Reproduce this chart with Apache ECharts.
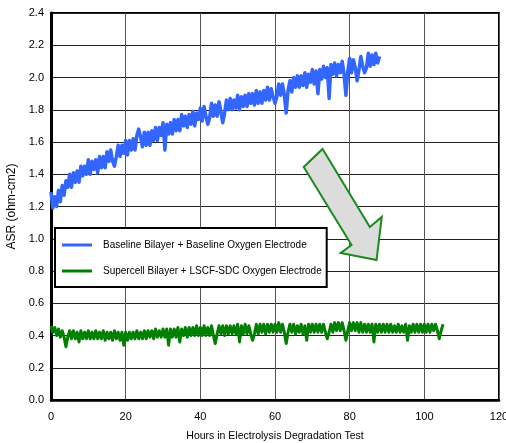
<!DOCTYPE html>
<html><head><meta charset="utf-8">
<script src="https://cdn.jsdelivr.net/npm/echarts@6/dist/echarts.min.js"></script>
<style>html,body{margin:0;padding:0;background:#fff}#c{width:506px;height:443px}</style>
</head><body><div id="c"></div>
<script>
const xTicks = [0, 20, 40, 60, 80, 100, 120];
const yTicks = [0.0, 0.2, 0.4, 0.6, 0.8, 1.0, 1.2, 1.4, 1.6, 1.8, 2.0, 2.2, 2.4];
const seriesNames = ['Baseline Bilayer + Baseline Oxygen Electrode', 'Supercell Bilayer + LSCF-SDC Oxygen Electrode'];
const xTitle = 'Hours in Electrolysis Degradation Test';
const yTitle = 'ASR (ohm-cm2)';

// Baseline (blue): [hours, ASR]
const baselineData = [
[0,1.29],[0.5,1.19],[1,1.26],[1.5,1.20],[2,1.30],[2.5,1.23],[3,1.33],[3.5,1.27],[4,1.36],[4.5,1.32],
[5,1.40],[5.5,1.32],[6,1.41],[6.5,1.35],[7,1.42],[7.5,1.35],[8,1.45],[8.5,1.39],[9,1.45],[9.5,1.40],
[10,1.49],[10.5,1.40],[11,1.48],[11.5,1.43],[12,1.49],[12.5,1.41],[13,1.51],[13.5,1.44],[14,1.51],[14.5,1.44],
[15,1.54],[15.5,1.48],[16,1.55],[16.5,1.48],[17,1.45],[17.5,1.51],[18,1.58],[18.5,1.51],[19,1.58],[19.5,1.53],
[20,1.61],[20.5,1.52],[21,1.61],[21.5,1.55],[22,1.62],[22.5,1.55],[23,1.64],[23.5,1.68],[24,1.63],[24.5,1.57],
[25,1.66],[25.5,1.58],[26,1.66],[26.5,1.58],[27,1.67],[27.5,1.61],[28,1.69],[28.5,1.61],[29,1.69],[29.5,1.64],
[30,1.72],[30.5,1.55],[31,1.71],[31.5,1.65],[32,1.72],[32.5,1.65],[33,1.74],[33.5,1.67],[34,1.74],[34.5,1.67],
[35,1.77],[35.5,1.70],[36,1.76],[36.5,1.69],[37,1.77],[37.5,1.71],[38,1.79],[38.5,1.70],[39,1.78],[39.5,1.74],
[40,1.81],[40.5,1.73],[41,1.82],[41.5,1.76],[42,1.71],[42.5,1.75],[43,1.84],[43.5,1.76],[44,1.83],[44.5,1.76],
[45,1.85],[45.5,1.79],[46,1.72],[46.5,1.78],[47,1.86],[47.5,1.80],[48,1.87],[48.5,1.80],[49,1.86],[49.5,1.81],
[50,1.89],[50.5,1.80],[51,1.88],[51.5,1.82],[52,1.89],[52.5,1.82],[53,1.90],[53.5,1.84],[54,1.90],[54.5,1.83],
[55,1.92],[55.5,1.84],[56,1.91],[56.5,1.84],[57,1.92],[57.5,1.86],[58,1.94],[58.5,1.86],[59,1.93],[59.5,1.88],
[60,1.84],[60.5,1.88],[61,1.96],[61.5,1.89],[62,1.96],[62.5,1.89],[63,1.78],[63.5,1.92],[64,1.98],[64.5,1.91],
[65,2.00],[65.5,1.94],[66,2.01],[66.5,1.94],[67,2.01],[67.5,1.95],[68,2.03],[68.5,1.94],[69,2.02],[69.5,1.97],
[70,2.05],[70.5,1.96],[71,2.04],[71.5,1.90],[72,2.05],[72.5,1.99],[73,2.07],[73.5,2.00],[74,2.06],[74.5,1.87],
[75,2.08],[75.5,2.02],[76,2.09],[76.5,2.01],[77,2.08],[77.5,2.03],[78,2.10],[78.5,2.02],[79,1.89],[79.5,2.04],
[80,2.12],[80.5,2.03],[81,2.11],[81.5,2.06],[82,1.98],[82.5,2.05],[83,2.13],[83.5,2.07],[84,2.03],[84.5,2.06],
[85,2.15],[85.5,2.07],[86,2.14],[86.5,2.08],[87,2.15],[87.5,2.09],[88,2.13]
];

// Supercell (green): [hours, ASR]
const supercellData = [
[0,0.46],[0.5,0.42],[1,0.45],[1.5,0.40],[2,0.44],[2.5,0.39],[3,0.43],[3.5,0.39],[4,0.33],[4.5,0.39],
[5,0.43],[5.5,0.38],[6,0.43],[6.5,0.38],[7,0.42],[7.5,0.36],[8,0.43],[8.5,0.38],[9,0.42],[9.5,0.38],
[10,0.43],[10.5,0.38],[11,0.42],[11.5,0.38],[12,0.43],[12.5,0.38],[13,0.42],[13.5,0.38],[14,0.43],[14.5,0.37],
[15,0.42],[15.5,0.38],[16,0.42],[16.5,0.37],[17,0.43],[17.5,0.38],[18,0.42],[18.5,0.37],[19,0.42],[19.5,0.34],
[20,0.42],[20.5,0.37],[21,0.42],[21.5,0.38],[22,0.42],[22.5,0.38],[23,0.43],[23.5,0.38],[24,0.42],[24.5,0.38],
[25,0.43],[25.5,0.38],[26,0.43],[26.5,0.39],[27,0.43],[27.5,0.38],[28,0.44],[28.5,0.39],[29,0.43],[29.5,0.39],
[30,0.44],[30.5,0.39],[31,0.44],[31.5,0.34],[32,0.44],[32.5,0.39],[33,0.44],[33.5,0.39],[34,0.45],[34.5,0.36],
[35,0.44],[35.5,0.40],[36,0.45],[36.5,0.39],[37,0.45],[37.5,0.40],[38,0.45],[38.5,0.40],[39,0.46],[39.5,0.40],
[40,0.45],[40.5,0.40],[41,0.46],[41.5,0.40],[42,0.45],[42.5,0.40],[43,0.46],[43.5,0.40],[44,0.35],[44.5,0.41],
[45,0.46],[45.5,0.41],[46,0.46],[46.5,0.40],[47,0.46],[47.5,0.41],[48,0.46],[48.5,0.41],[49,0.46],[49.5,0.41],
[50,0.47],[50.5,0.36],[51,0.46],[51.5,0.41],[52,0.47],[52.5,0.41],[53,0.46],[53.5,0.41],[54,0.37],[54.5,0.41],
[55,0.47],[55.5,0.41],[56,0.47],[56.5,0.42],[57,0.47],[57.5,0.41],[58,0.47],[58.5,0.42],[59,0.47],[59.5,0.42],
[60,0.47],[60.5,0.42],[61,0.48],[61.5,0.42],[62,0.47],[62.5,0.42],[63,0.35],[63.5,0.42],[64,0.47],[64.5,0.42],
[65,0.47],[65.5,0.41],[66,0.46],[66.5,0.42],[67,0.47],[67.5,0.41],[68,0.46],[68.5,0.37],[69,0.47],[69.5,0.42],
[70,0.47],[70.5,0.42],[71,0.47],[71.5,0.42],[72,0.47],[72.5,0.42],[73,0.47],[73.5,0.42],[74,0.38],[74.5,0.42],
[75,0.47],[75.5,0.42],[76,0.48],[76.5,0.43],[77,0.48],[77.5,0.43],[78,0.48],[78.5,0.43],[79,0.37],[79.5,0.43],
[80,0.48],[80.5,0.43],[81,0.48],[81.5,0.43],[82,0.48],[82.5,0.42],[83,0.48],[83.5,0.42],[84,0.47],[84.5,0.42],
[85,0.47],[85.5,0.42],[86,0.47],[86.5,0.36],[87,0.47],[87.5,0.42],[88,0.47],[88.5,0.42],[89,0.47],[89.5,0.42],
[90,0.47],[90.5,0.42],[91,0.47],[91.5,0.42],[92,0.46],[92.5,0.42],[93,0.47],[93.5,0.42],[94,0.46],[94.5,0.42],
[95,0.47],[95.5,0.37],[96,0.46],[96.5,0.42],[97,0.47],[97.5,0.42],[98,0.47],[98.5,0.42],[99,0.47],[99.5,0.42],
[100,0.47],[100.5,0.42],[101,0.47],[101.5,0.42],[102,0.47],[102.5,0.43],[103,0.47],[103.5,0.43],[104,0.38],[104.5,0.43],
[105,0.47]
];

// Arrow annotation outline in data coordinates [hours, ASR]
const arrowOutline = [[72.75,1.557],[85.4,1.073],[88.6,1.135],[87.2,0.868],[77.6,0.912],[80.5,0.961],[67.7,1.445]];

const FONT = '"Liberation Sans Narrow","Arial Narrow","Liberation Sans",Arial,sans-serif';
const chart = echarts.init(document.getElementById('c'), null, {renderer: 'canvas'});
chart.setOption({
  animation: false,
  backgroundColor: '#fff',
  grid: {left: 51, right: 7, top: 13, bottom: 43, show: true, borderColor: '#000', borderWidth: 2,
         backgroundColor: 'transparent', containLabel: false, outerBoundsMode: 'none'},
  xAxis: {
    type: 'value', min: xTicks[0], max: xTicks[xTicks.length - 1], interval: 20,
    name: xTitle, nameLocation: 'middle', nameGap: 31,
    nameTextStyle: {fontFamily: FONT, fontSize: 10.5, color: '#000'},
    axisLine: {show: true, onZero: false, lineStyle: {color: '#000', width: 2.5}},
    axisTick: {show: false},
    axisLabel: {fontFamily: FONT, fontSize: 11, color: '#000', margin: 11},
    splitLine: {show: true, lineStyle: {color: '#555', width: 1}}
  },
  yAxis: {
    type: 'value', min: yTicks[0], max: yTicks[yTicks.length - 1], interval: 0.2,
    name: yTitle, nameLocation: 'middle', nameGap: 29,
    nameTextStyle: {fontFamily: FONT, fontSize: 12, color: '#000'},
    axisLine: {show: true, lineStyle: {color: '#000', width: 3}},
    axisTick: {show: false},
    axisLabel: {fontFamily: FONT, fontSize: 11, color: '#000', margin: 7, formatter: v => v.toFixed(1)},
    splitLine: {show: true, lineStyle: {color: '#222', width: 1}}
  },
  legend: {
    orient: 'vertical', left: 55, top: 228,
    backgroundColor: '#fff', borderColor: '#000', borderWidth: 2,
    padding: [12, 5, 11, 7], itemGap: 16, itemWidth: 30, itemHeight: 3, icon: 'rect',
    textStyle: {fontFamily: FONT, fontSize: 10, color: '#000', padding: [0, 0, 0, 6]},
    data: seriesNames
  },
  series: [
    {name: seriesNames[0], type: 'line', data: baselineData, showSymbol: false, symbol: 'none',
     lineStyle: {color: '#3366ff', width: 3.5, join: 'round'}, itemStyle: {color: '#3366ff'}, z: 3},
    {name: seriesNames[1], type: 'line', data: supercellData, showSymbol: false, symbol: 'none',
     lineStyle: {color: '#008000', width: 3, join: 'round'}, itemStyle: {color: '#008000'}, z: 3}
  ]
});
const pts = arrowOutline.map(p => chart.convertToPixel({gridIndex: 0}, p));
chart.setOption({
  graphic: [{type: 'polygon', shape: {points: pts}, style: {fill: '#dcdcdc', stroke: '#1a8a1a', lineWidth: 2}, z: 100}]
});
</script></body></html>
